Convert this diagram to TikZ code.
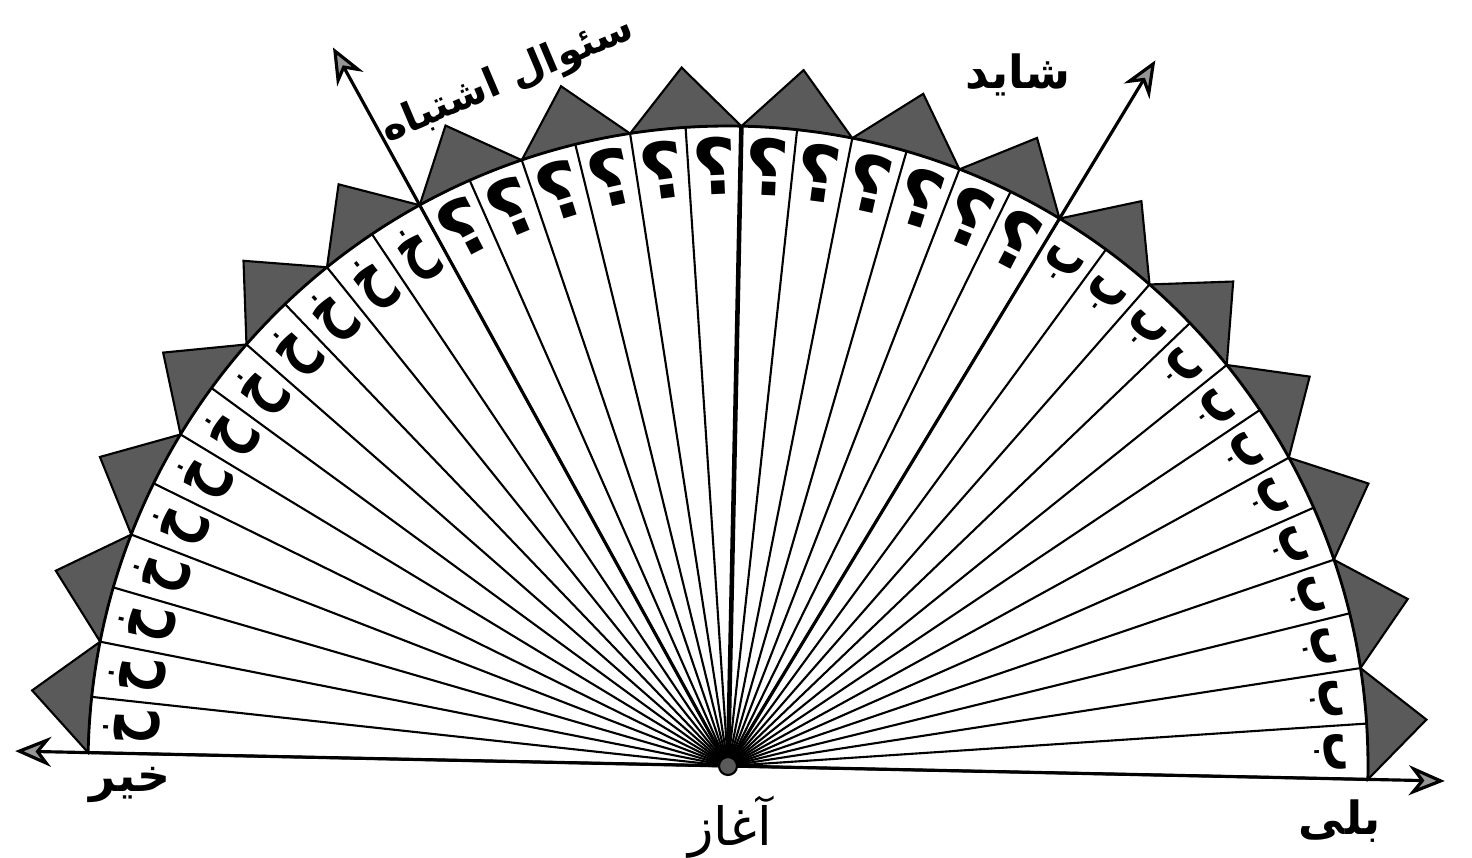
\documentclass[tikz,border=0pt]{standalone}
\usepackage{fontspec}
\usepackage{graphicx}
\newfontfamily\arabicfont[Script=Arabic]{DejaVu Sans}
\TeXXeTstate=1
\usetikzlibrary{arrows.meta}
\definecolor{toothgray}{RGB}{90,90,90}
\definecolor{tipgray}{RGB}{150,150,150}

\begin{document}
\begin{tikzpicture}[
        tooth/.style={fill=toothgray, draw=black, line width=0.6pt},
        spoke/.style={line width=0.6pt},
        mainspoke/.style={line width=1.3pt},
        ray/.style={line width=0.9pt, -{Stealth[length=3.6mm, width=3mm, fill=tipgray]}},
        letterlabel/.style={font=\arabicfont\bfseries\fontsize{13}{13}\selectfont, inner sep=0pt},
        asklabel/.style={font=\arabicfont\bfseries\fontsize{22}{22}\selectfont, inner sep=0pt},
        title/.style={font=\arabicfont\bfseries\fontsize{13}{13}\selectfont, inner sep=1pt}
    ]
    \useasboundingbox (-7.28,-0.91) rectangle (7.44,7.66);
    \def\R{6.4}
    \begin{scope}[rotate=-1.2]
        \coordinate (O) at (0,0);
        \foreach \k in {0,...,17} {
            \pgfmathsetmacro\a{10*\k}
            \pgfmathsetmacro\b{10*\k+10}
            \pgfmathsetmacro\m{10*\k+5}
            \filldraw[tooth] (\a:\R) arc[start angle=\a, end angle=\b, radius=\R] -- (\m:{\R+0.6}) -- cycle;
        }
        \filldraw[fill=white, line width=0.8pt] (0:\R) arc[start angle=0, end angle=180, radius=\R] -- cycle;
        \foreach \a in {5,10,...,175}
            \draw[spoke] (O) -- (\a:\R);
        \draw[mainspoke] (O) -- (90:\R);

        \coordinate (wrongtip) at (120:8.2);
        \coordinate (maybetip) at (60:8.25);
        \coordinate (yestip) at (0:7.17);
        \coordinate (notip) at (180:7.13);
        \draw[ray] (O) -- (wrongtip);
        \draw[ray] (O) -- (maybetip);
        \draw[ray] (O) -- (yestip);
        \draw[ray] (O) -- (notip);
        \filldraw[fill=toothgray, line width=0.6pt] (O) circle (0.09);

        \foreach \i in {0,...,11} {
            \pgfmathsetmacro\a{177.5-5*\i}
            \node[letterlabel, rotate=\a-90] (kh\i) at (\a:5.98) {\scalebox{1}[1.5]{\beginR خ\endR}};
            \pgfmathsetmacro\c{117.5-5*\i}
            \node[asklabel, rotate=\c-90] (q\i) at (\c:6.0) {\beginR ؟\endR};
            \pgfmathsetmacro\d{57.5-5*\i}
            \node[letterlabel, font=\arabicfont\bfseries\fontsize{11.5}{11.5}\selectfont, rotate=\d-90] (b\i) at (\d:6.02) {\scalebox{1}[1.6]{\beginR ب\endR}};
        }
    \end{scope}

    \node[title, font=\arabicfont\bfseries\fontsize{11.5}{11.5}\selectfont, rotate=23] (wrongtxt) at (-2.2,6.86) {\beginR سئوال اشتباه\endR};
    \node[title] (maybetxt) at (2.9,6.91) {\beginR شاید\endR};
    \node[title] (notxt) at (-5.98,-0.19) {\beginR خیر\endR};
    \node[title] (yestxt) at (6.12,-0.55) {\beginR بلی\endR};
    \node[font=\arabicfont\fontsize{15}{15}\selectfont] (starttxt) at (0.02,-0.61) {\beginR آغاز\endR};
\end{tikzpicture}
\end{document}
